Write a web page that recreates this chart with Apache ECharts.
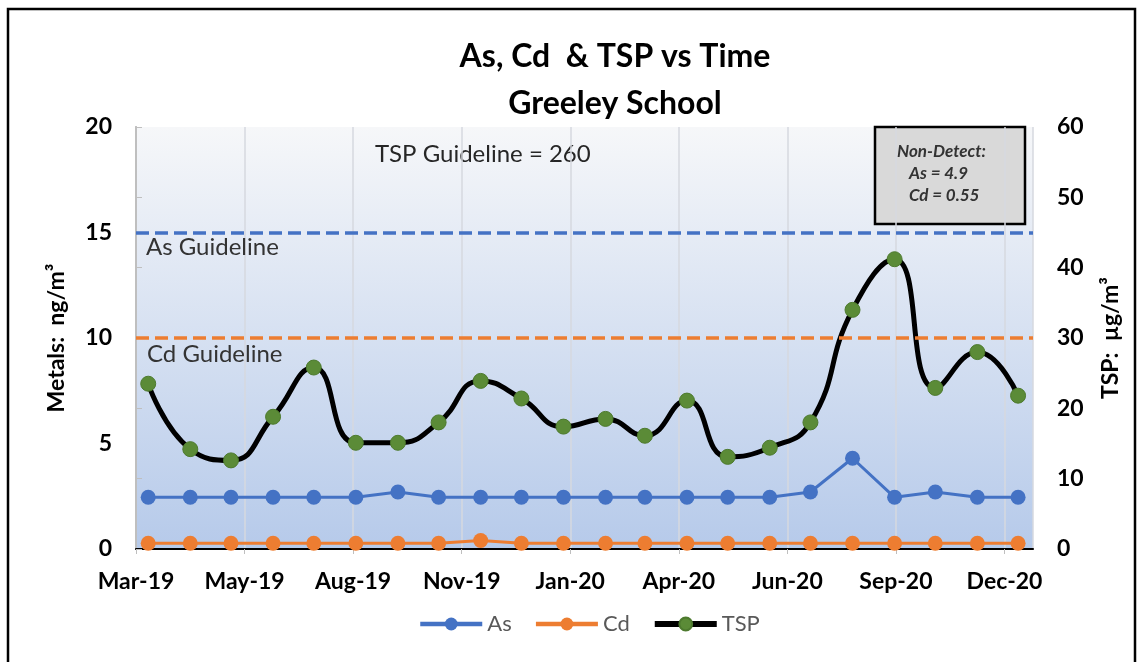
<!DOCTYPE html>
<html>
<head>
<meta charset="utf-8">
<script src="https://cdn.jsdelivr.net/npm/echarts@6/dist/echarts.min.js"></script>
<style>
    html, body { margin: 0; padding: 0; background: #fff; }
    #chart { width: 1143px; height: 662px; }
</style>
</head>
<body>
<div id="chart"></div>
<script>
    // sampling dates (one per month) and values
    var sampleDates = ['2019-03-16', '2019-04-16', '2019-05-16', '2019-06-16', '2019-07-16', '2019-08-16',
        '2019-09-16', '2019-10-16', '2019-11-16', '2019-12-16', '2020-01-16', '2020-02-16',
        '2020-03-16', '2020-04-16', '2020-05-16', '2020-06-16', '2020-07-16', '2020-08-16',
        '2020-09-16', '2020-10-16', '2020-11-16', '2020-12-16'];
    var asValues = [2.45, 2.45, 2.45, 2.45, 2.45, 2.45, 2.7, 2.45, 2.45, 2.45, 2.45,
        2.45, 2.45, 2.45, 2.45, 2.45, 2.7, 4.3, 2.45, 2.7, 2.45, 2.45];
    var cdValues = [0.275, 0.275, 0.275, 0.275, 0.275, 0.275, 0.275, 0.275, 0.4, 0.275, 0.275,
        0.275, 0.275, 0.275, 0.275, 0.275, 0.275, 0.275, 0.275, 0.275, 0.275, 0.275];
    var tspValues = [23.5, 14.2, 12.6, 18.8, 25.8, 15.1, 15.1, 18.0, 23.9, 21.4, 17.4,
        18.5, 16.1, 21.1, 13.1, 14.4, 18.0, 34.0, 41.2, 22.9, 28.0, 21.8];
    var asGuideline = 15;
    var cdGuideline = 10;
    var metalTicks = { min: 0, max: 20, step: 5 };
    var tspTicks = { min: 0, max: 60, step: 10 };

    // x axis runs in days from the first tick date, one label every 80 days
    var axisStart = Date.UTC(2019, 2, 7);
    var dayStep = 80;
    var axisEndDay = 661;
    var MONTHS = ['Jan', 'Feb', 'Mar', 'Apr', 'May', 'Jun', 'Jul', 'Aug', 'Sep', 'Oct', 'Nov', 'Dec'];
    var DAY = 86400000;

    function dayOffset(str) {
        var p = str.split('-');
        return Math.round((Date.UTC(+p[0], +p[1] - 1, +p[2]) - axisStart) / DAY);
    }
    function dayLabel(v) {
        var d = new Date(axisStart + v * DAY);
        return MONTHS[d.getUTCMonth()] + '-' + String(d.getUTCFullYear()).slice(2);
    }
    function pairs(vals) {
        return vals.map(function (v, i) { return [dayOffset(sampleDates[i]), v]; });
    }

    var FONT = 'Lato';
    var chart = echarts.init(document.getElementById('chart'));
    var option = {
        animation: false,
        textStyle: { fontFamily: FONT },
        title: {
            text: 'As, Cd  & TSP vs Time\nGreeley School',
            left: 610,
            top: 28,
            textAlign: 'center',
            textStyle: { fontFamily: FONT, fontSize: 32, fontWeight: 'bold', color: '#000', lineHeight: 47 }
        },
        legend: {
            data: [
                { name: 'As', lineStyle: { width: 4.5 } },
                { name: 'Cd', lineStyle: { width: 4.5 } },
                { name: 'TSP', lineStyle: { width: 6 } }
            ],
            left: 413,
            top: 608,
            itemWidth: 62,
            itemHeight: 16,
            itemGap: 22,
            textStyle: { fontFamily: FONT, fontSize: 22, color: '#595959' }
        },
        grid: {
            left: 136,
            right: 110,
            top: 127,
            bottom: 113,
            show: true,
            borderWidth: 0,
            backgroundColor: {
                type: 'linear', x: 0, y: 0, x2: 0, y2: 1,
                colorStops: [{ offset: 0, color: '#f6f7f9' }, { offset: 1, color: '#b6caea' }]
            }
        },
        xAxis: [{
            type: 'value',
            min: 0,
            max: axisEndDay,
            interval: dayStep,
            axisLine: { lineStyle: { color: '#c4c9d0', width: 2 } },
            axisTick: { show: true, length: 5, lineStyle: { color: '#bfbfbf' } },
            splitLine: { show: true, lineStyle: { color: '#d6d9df', width: 1.5 } },
            axisLabel: {
                formatter: dayLabel,
                showMaxLabel: false,
                fontFamily: FONT,
                fontSize: 23,
                fontWeight: 'bold',
                color: '#000',
                margin: 21
            }
        }, {
            type: 'value',
            position: 'top',
            min: 0,
            max: 1,
            axisLine: { show: true, lineStyle: { color: '#000', width: 2 } },
            axisTick: { show: false },
            axisLabel: { show: false },
            splitLine: { show: false }
        }],
        yAxis: [{
            type: 'value',
            min: metalTicks.min,
            max: metalTicks.max,
            interval: metalTicks.step,
            name: 'Metals:  ng/m³',
            nameLocation: 'middle',
            nameGap: 68,
            nameMoveOverlap: false,
            nameTextStyle: { fontFamily: FONT, fontSize: 23, fontWeight: 'bold', color: '#000' },
            axisLine: { show: true, lineStyle: { color: '#bfbfbf', width: 2 } },
            axisTick: { show: false },
            splitLine: { show: false },
            axisLabel: { fontFamily: FONT, fontSize: 23, fontWeight: 'bold', color: '#000', margin: 24 }
        }, {
            type: 'value',
            min: tspTicks.min,
            max: tspTicks.max,
            interval: tspTicks.step,
            name: 'TSP:  µg/m³',
            nameLocation: 'middle',
            nameGap: 66,
            nameRotate: 90,
            nameMoveOverlap: false,
            nameTextStyle: { fontFamily: FONT, fontSize: 23, fontWeight: 'bold', color: '#000' },
            axisLine: { show: true, lineStyle: { color: '#bfbfbf', width: 2 } },
            axisTick: { show: true, length: 6, lineStyle: { color: '#bfbfbf' } },
            splitLine: { show: false },
            axisLabel: { fontFamily: FONT, fontSize: 23, fontWeight: 'bold', color: '#000', margin: 24 }
        }],
        graphic: [{
            type: 'rect',
            shape: { x: 8, y: 9, width: 1127, height: 700 },
            style: { fill: 'none', stroke: '#000', lineWidth: 2.5 },
            silent: true
        }, {
            type: 'text',
            style: {
                x: 375, y: 154, text: 'TSP Guideline = 260', font: '24px Lato',
                fill: '#262626', verticalAlign: 'middle'
            }
        }, {
            type: 'group',
            x: 875,
            y: 127,
            children: [{
                type: 'rect',
                shape: { x: 0, y: 0, width: 150, height: 97 },
                style: { fill: '#d9d9d9', stroke: '#000', lineWidth: 2.5 }
            }, {
                type: 'text',
                style: { x: 22, y: 25, text: 'Non-Detect:', font: 'italic bold 17px Lato', fill: '#333', verticalAlign: 'middle' }
            }, {
                type: 'text',
                style: { x: 34, y: 47, text: 'As = 4.9', font: 'italic bold 17px Lato', fill: '#333', verticalAlign: 'middle' }
            }, {
                type: 'text',
                style: { x: 34, y: 69, text: 'Cd = 0.55', font: 'italic bold 17px Lato', fill: '#333', verticalAlign: 'middle' }
            }]
        }],
        series: [{
            name: 'As',
            type: 'line',
            yAxisIndex: 0,
            data: pairs(asValues),
            symbol: 'circle',
            symbolSize: 15,
            lineStyle: { color: '#4472c4', width: 3 },
            itemStyle: { color: '#4472c4' },
            markLine: {
                silent: true,
                symbol: 'none',
                lineStyle: { color: '#4472c4', type: [13, 6], width: 3.5 },
                label: {
                    formatter: 'As Guideline',
                    position: 'insideStartBottom',
                    fontFamily: FONT,
                    fontSize: 24,
                    color: '#333',
                    distance: [10, 3]
                },
                data: [{ yAxis: asGuideline }]
            }
        }, {
            name: 'Cd',
            type: 'line',
            yAxisIndex: 0,
            data: pairs(cdValues),
            symbol: 'circle',
            symbolSize: 15,
            lineStyle: { color: '#ed7d31', width: 3 },
            itemStyle: { color: '#ed7d31' },
            markLine: {
                silent: true,
                symbol: 'none',
                lineStyle: { color: '#ed7d31', type: [13, 6], width: 3.5 },
                label: {
                    formatter: 'Cd Guideline',
                    position: 'insideStartBottom',
                    fontFamily: FONT,
                    fontSize: 24,
                    color: '#333',
                    distance: [11, 4]
                },
                data: [{ yAxis: cdGuideline }]
            }
        }, {
            name: 'TSP',
            type: 'line',
            yAxisIndex: 1,
            data: pairs(tspValues),
            smooth: 0.5,
            symbol: 'circle',
            symbolSize: 15,
            lineStyle: { color: '#000', width: 5 },
            itemStyle: { color: '#5b8b37', borderColor: '#4d7a2e', borderWidth: 1 }
        }]
    };
    chart.setOption(option);
</script>
</body>
</html>
